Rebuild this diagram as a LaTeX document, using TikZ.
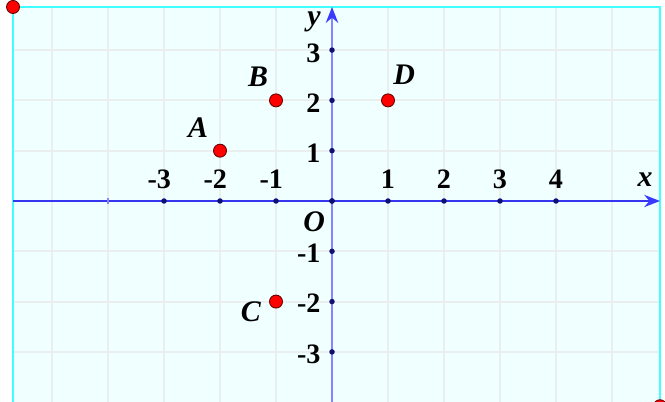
\documentclass[tikz,border=0pt]{standalone}
\usepackage{fontspec}
\setmainfont{Liberation Serif}
\usetikzlibrary{arrows.meta}

\begin{document}
\begin{tikzpicture}[x=1.12cm, y=1.006cm,
    numlab/.style={font=\fontsize{16}{18}\selectfont\bfseries, inner sep=0pt},
    letlab/.style={font=\fontsize{17}{19}\selectfont\bfseries\itshape, inner sep=0pt},
    axisdot/.style={circle, fill=dotColour, inner sep=0pt, minimum size=1.1mm},
    redpt/.style={circle, fill=red, draw=black!60!red, line width=0.5pt, inner sep=0pt, minimum size=2.6mm}]
    % Define colors
    \definecolor{frameColour}{HTML}{40FFFF}
    \definecolor{bgColour}{HTML}{F0FFFF}
    \definecolor{gridColour}{HTML}{EAEEEE}
    \definecolor{xAxisColour}{HTML}{3535F0}
    \definecolor{yAxisColour}{HTML}{8585FF}
    \definecolor{tipColour}{HTML}{3A3AFF}
    \definecolor{dotColour}{HTML}{101070}

    % Define frame limits
    \def\frameL{-5.696}
    \def\frameR{5.857}
    \def\frameT{3.857}
    \def\frameB{-4.08}

    % Picture size
    \useasboundingbox (-5.929,-3.996) rectangle (5.946,3.996);
    \clip (-5.929,-3.996) rectangle (5.946,3.996);
    \fill[white] (-5.929,-3.996) rectangle (5.946,3.996);

    % Draw background and grid
    \fill[bgColour] (\frameL,\frameB) rectangle (\frameR,\frameT);
    \foreach \x in {-5,...,5}
        \draw[gridColour, line width=1.1pt] (\x,\frameB) -- (\x,\frameT);
    \foreach \y in {-3,...,3}
        \draw[gridColour, line width=1.1pt] (\frameL,\y) -- (\frameR,\y);
    \draw[frameColour, line width=1.2pt] (\frameL,\frameB) rectangle (\frameR,\frameT);

    % Draw axes
    \coordinate (xStart) at (\frameL,0);
    \coordinate (xEnd) at (\frameR,0);
    \coordinate (yStart) at (0,\frameB);
    \coordinate (yEnd) at (0,\frameT);
    \draw[xAxisColour, line width=0.9pt, -{Stealth[length=9pt, width=7pt, color=tipColour]}] (xStart) -- (xEnd);
    \draw[yAxisColour, line width=1.5pt, -{Stealth[length=9pt, width=7pt, color=tipColour]}] (yStart) -- (yEnd);
    \draw[yAxisColour, line width=0.8pt] (-4,-0.06) -- (-4,0.06);
    \node[letlab] (xlab) at (5.59,0.42) {x};
    \node[letlab] (ylab) at (-0.32,3.56) {y};
    \node[letlab] (O) at (-0.32,-0.42) {O};

    % Label x-axis
    \foreach \x in {-3,...,-1}
        \node[numlab] (xn\x) at (\x,0.44) {\llap{-}\the\numexpr-\x\relax};
    \foreach \x in {1,...,4}
        \node[numlab] (xp\x) at (\x,0.44) {\x};
    \foreach \x in {-3,...,4}
        \node[axisdot] (xd\x) at (\x,0) {};
    % Label y-axis
    \foreach \y in {1,...,3}
        \node[numlab, anchor=east] (yp\y) at (-0.2,\y-0.06) {\y};
    \foreach \y in {-3,...,-1}
        \node[numlab, anchor=east] (yn\y) at (-0.2,\y-0.04) {-\the\numexpr-\y\relax};
    \foreach \y in {-3,...,3}
        \node[axisdot] (yd\y) at (0,\y) {};

    % Draw points
    \node[redpt] (A) at (-2,1) {};
    \node[redpt] (B) at (-1,2) {};
    \node[redpt] (C) at (-1,-2) {};
    \node[redpt] (D) at (1,2) {};
    \node[letlab] (Alab) at (-2.39,1.45) {A};
    \node[letlab] (Blab) at (-1.32,2.47) {B};
    \node[letlab] (Clab) at (-1.45,-2.2) {C};
    \node[letlab] (Dlab) at (1.29,2.5) {D};

    % Corner handles
    \node[redpt] (handleTL) at (\frameL,\frameT) {};
    \node[redpt] (handleBR) at (\frameR,\frameB) {};
\end{tikzpicture}
\end{document}
